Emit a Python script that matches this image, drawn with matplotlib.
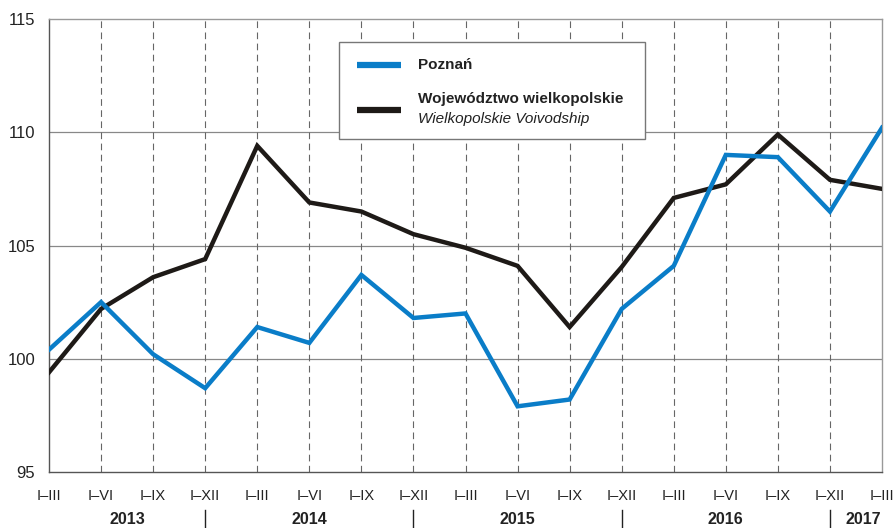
import matplotlib
matplotlib.use("Agg")
import matplotlib.pyplot as plt
from matplotlib.patches import Rectangle
from matplotlib.lines import Line2D
import matplotlib.transforms as mtrans

plt.rcParams['font.family'] = ['Liberation Sans', 'DejaVu Sans']

quarters = ["I–III", "I–VI", "I–IX", "I–XII"] * 4 + ["I–III"]
years = ["2013", "2014", "2015", "2016", "2017"]
poznan = [100.4, 102.5, 100.2, 98.7, 101.4, 100.7, 103.7, 101.8,
          102.0, 97.9, 98.2, 102.2, 104.1, 109.0, 108.9, 106.5, 110.2]
wlkp = [99.4, 102.2, 103.6, 104.4, 109.4, 106.9, 106.5, 105.5,
        104.9, 104.1, 101.4, 104.05, 107.1, 107.7, 109.9, 107.9, 107.5]
yticks = [95, 100, 105, 110, 115]

W, H = 894, 528
fig = plt.figure(figsize=(W / 100, H / 100), dpi=100)
L, R, T, B = 49, 882, 19, 472
ax = fig.add_axes([L / W, 1 - B / H, (R - L) / W, (B - T) / H])

x = list(range(len(quarters)))
blue = "#0a7dc8"
black = "#1e1a17"
ax.plot(x, wlkp, color=black, lw=3.2, solid_joinstyle="miter", zorder=3)
ax.plot(x, poznan, color=blue, lw=3.2, solid_joinstyle="miter", zorder=4)

ax.set_xlim(0, len(x) - 1)
ax.set_ylim(95, 115)
ax.set_yticks(yticks)
ax.set_yticklabels([str(v) for v in yticks], fontsize=12, color="#222222")
ax.set_xticks(x)
ax.set_xticklabels(quarters, fontsize=10.5, color="#222222")
ax.tick_params(axis="y", length=0, pad=10)
ax.tick_params(axis="x", length=0, pad=12)

for v in yticks[1:-1]:
    ax.axhline(v, color="#888888", lw=0.9, zorder=1)
for xi in x[1:-1]:
    ax.axvline(xi, color="#666666", lw=0.8, ls=(0, (6, 4)), zorder=1)

for s in ["left", "bottom"]:
    ax.spines[s].set_color("#555555")
    ax.spines[s].set_linewidth(1.0)
for s in ["top", "right"]:
    ax.spines[s].set_color("#999999")
    ax.spines[s].set_linewidth(1.0)

# year labels and separators
trans = mtrans.blended_transform_factory(ax.transData, fig.transFigure)
bounds = [(0, 3), (3, 7), (7, 11), (11, 15), (15, 16)]
for yr, (a, b) in zip(years, bounds):
    ax.text((a + b) / 2 + (0.15 if yr == "2017" else 0), 1 - 520 / H, yr, transform=trans,
            ha="center", va="center", fontsize=11.5, fontweight="bold", color="#222222")
for s in [3, 7, 11, 15]:
    fig.add_artist(Line2D([s, s], [1 - 510 / H, 0.0], transform=trans, color="#222222", lw=1.0))

# legend
lx0, lx1, ly0, ly1 = 339, 645, 42, 139
fig.add_artist(Rectangle((lx0 / W, 1 - ly1 / H), (lx1 - lx0) / W, (ly1 - ly0) / H,
                         transform=fig.transFigure, facecolor="white",
                         edgecolor="#777777", lw=1.0, zorder=10))
fig.add_artist(Line2D([357 / W, 401 / W], [1 - 65 / H] * 2, color=blue, lw=4.5, zorder=11,
                      solid_capstyle="butt"))
fig.add_artist(Line2D([357 / W, 401 / W], [1 - 110 / H] * 2, color=black, lw=4.5, zorder=11,
                      solid_capstyle="butt"))
fig.text(418 / W, 1 - 65 / H, "Poznań", fontsize=11, fontweight="bold", va="center",
         color="#222222", zorder=12)
fig.text(418 / W, 1 - 99 / H, "Województwo wielkopolskie", fontsize=11, fontweight="bold",
         va="center", color="#222222", zorder=12)
fig.text(418 / W, 1 - 119 / H, "Wielkopolskie Voivodship", fontsize=11, fontstyle="italic",
         va="center", color="#222222", zorder=12)

fig.savefig("out.png", dpi=100)
